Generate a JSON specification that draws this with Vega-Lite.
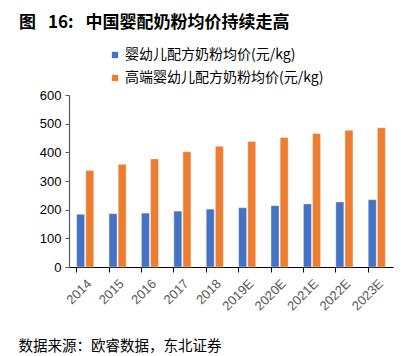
{
  "$schema": "https://vega.github.io/schema/vega-lite/v6.json",
  "autosize": "none",
  "width": 324,
  "height": 172,
  "padding": {"left": 69, "top": 95, "right": 20, "bottom": 89},
  "background": "white",
  "title": {
    "text": "图\u2002\u200916:\u2002\u2009中国婴配奶粉均价持续走高",
    "anchor": "start",
    "frame": "group",
    "dx": -50,
    "font": "Noto Sans CJK SC",
    "fontSize": 17,
    "fontWeight": "bold",
    "color": "#000000",
    "offset": 16
  },
  "data": {
    "values": [
      {"year": "2014", "series": "婴幼儿配方奶粉均价(元/kg)", "value": 184},
      {"year": "2015", "series": "婴幼儿配方奶粉均价(元/kg)", "value": 186},
      {"year": "2016", "series": "婴幼儿配方奶粉均价(元/kg)", "value": 188},
      {"year": "2017", "series": "婴幼儿配方奶粉均价(元/kg)", "value": 195},
      {"year": "2018", "series": "婴幼儿配方奶粉均价(元/kg)", "value": 202},
      {"year": "2019E", "series": "婴幼儿配方奶粉均价(元/kg)", "value": 207},
      {"year": "2020E", "series": "婴幼儿配方奶粉均价(元/kg)", "value": 214},
      {"year": "2021E", "series": "婴幼儿配方奶粉均价(元/kg)", "value": 220},
      {"year": "2022E", "series": "婴幼儿配方奶粉均价(元/kg)", "value": 227},
      {"year": "2023E", "series": "婴幼儿配方奶粉均价(元/kg)", "value": 235},
      {"year": "2014", "series": "高端婴幼儿配方奶粉均价(元/kg)", "value": 337},
      {"year": "2015", "series": "高端婴幼儿配方奶粉均价(元/kg)", "value": 358},
      {"year": "2016", "series": "高端婴幼儿配方奶粉均价(元/kg)", "value": 377},
      {"year": "2017", "series": "高端婴幼儿配方奶粉均价(元/kg)", "value": 402},
      {"year": "2018", "series": "高端婴幼儿配方奶粉均价(元/kg)", "value": 421},
      {"year": "2019E", "series": "高端婴幼儿配方奶粉均价(元/kg)", "value": 438},
      {"year": "2020E", "series": "高端婴幼儿配方奶粉均价(元/kg)", "value": 452},
      {"year": "2021E", "series": "高端婴幼儿配方奶粉均价(元/kg)", "value": 466},
      {"year": "2022E", "series": "高端婴幼儿配方奶粉均价(元/kg)", "value": 477},
      {"year": "2023E", "series": "高端婴幼儿配方奶粉均价(元/kg)", "value": 486}
    ]
  },
  "mark": {"type": "bar", "stroke": "#ffffff", "strokeWidth": 0.6, "strokeOpacity": 0.7},
  "encoding": {
    "x": {
      "field": "year",
      "type": "nominal",
      "sort": null,
      "scale": {"paddingInner": 0.47, "paddingOuter": 0.235},
      "axis": {
        "title": "数据来源：欧睿数据，东北证券",
        "titleFont": "Noto Sans CJK SC",
        "titleFontSize": 14.5,
        "titleFontWeight": "normal",
        "titleColor": "#000000",
        "titleAnchor": "start",
        "titleAlign": "left",
        "titleX": -51,
        "titleY": 79,
        "titleBaseline": "middle",
        "labelAngle": -45,
        "labelFont": "Liberation Sans",
        "labelFontSize": 13,
        "labelColor": "#595959",
        "labelPadding": 5,
        "bandPosition": 0,
        "ticks": true,
        "tickColor": "#000000",
        "tickSize": 5,
        "domainColor": "#000000",
        "domainWidth": 1.2,
        "grid": false
      }
    },
    "xOffset": {
      "field": "series",
      "type": "nominal",
      "sort": ["婴幼儿配方奶粉均价(元/kg)", "高端婴幼儿配方奶粉均价(元/kg)"],
      "scale": {"paddingInner": 0.12}
    },
    "y": {
      "field": "value",
      "type": "quantitative",
      "scale": {"domain": [0, 600]},
      "axis": {
        "title": null,
        "values": [0, 100, 200, 300, 400, 500, 600],
        "labelFont": "Liberation Sans",
        "labelFontSize": 13,
        "labelColor": "#000000",
        "labelPadding": 4,
        "tickColor": "#595959",
        "tickSize": 4,
        "domainColor": "#595959",
        "domainWidth": 1.2,
        "grid": false
      }
    },
    "color": {
      "field": "series",
      "type": "nominal",
      "sort": ["婴幼儿配方奶粉均价(元/kg)", "高端婴幼儿配方奶粉均价(元/kg)"],
      "scale": {"range": ["#4472C4", "#ED7D31"]},
      "legend": {
        "title": null,
        "orient": "none",
        "legendX": 39,
        "legendY": -47,
        "padding": 0,
        "direction": "vertical",
        "symbolType": "square",
        "symbolSize": 40,
        "symbolStrokeWidth": 0,
        "labelFont": "Noto Sans CJK SC",
        "labelFontSize": 14,
        "labelColor": "#000000",
        "labelOffset": 3,
        "rowPadding": 9,
        "labelLimit": 400
      }
    }
  },
  "config": {"view": {"stroke": null}}
}
